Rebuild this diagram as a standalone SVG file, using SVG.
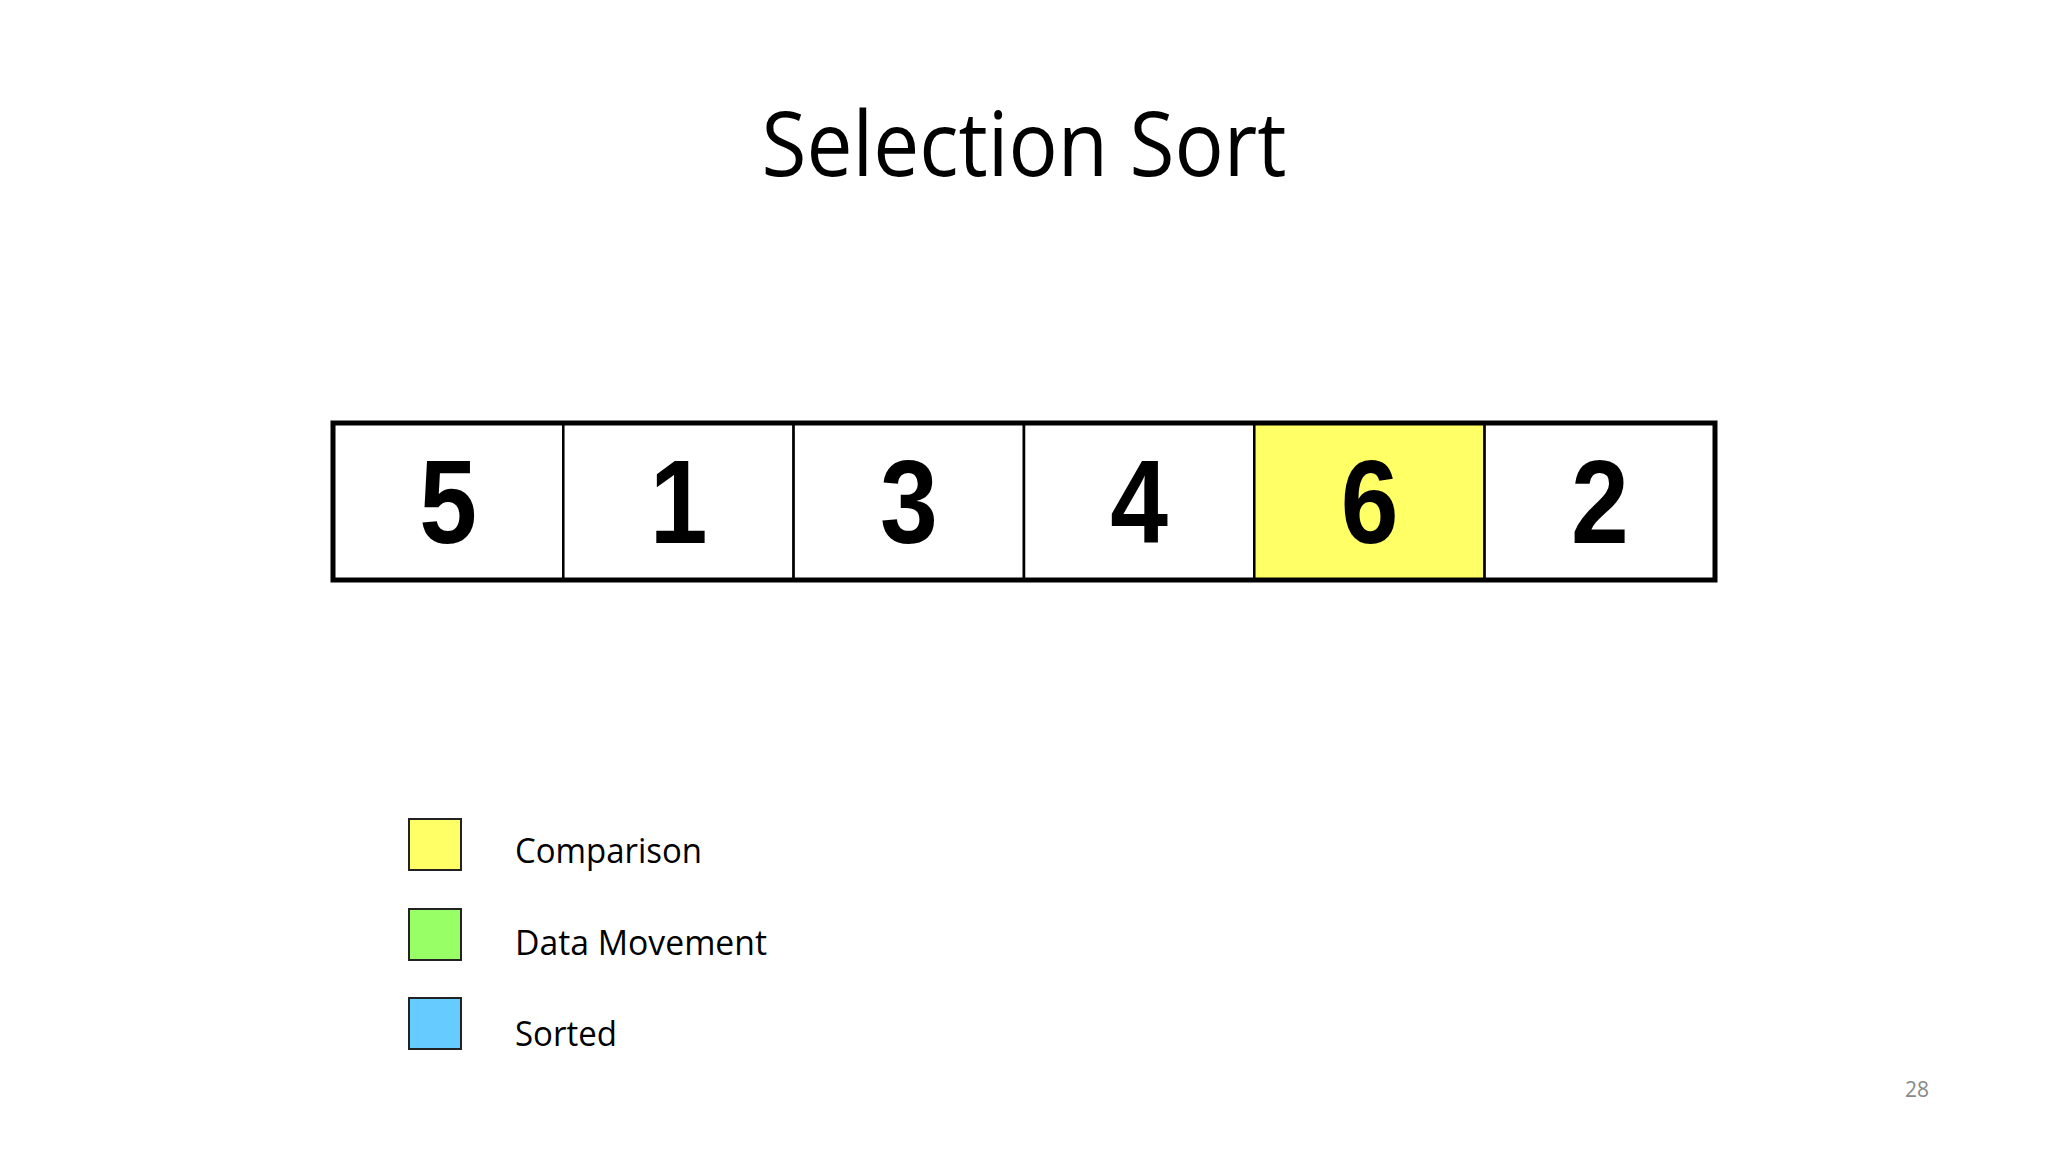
<svg xmlns="http://www.w3.org/2000/svg" width="2048" height="1152" viewBox="0 0 2048 1152">
<style>
.cell{stroke:#000;stroke-width:2.5}
.num{font-family:"Liberation Sans",Arial,sans-serif;font-weight:bold;font-size:118px;text-anchor:middle;fill:#000}
.sw{stroke:#222;stroke-width:2}
.lg{font-family:"Open Sans","Noto Sans",sans-serif;font-size:35px;fill:#000}
</style>
<rect width="2048" height="1152" fill="#fff"/>
<text id="title" x="1024" y="176" font-family="Open Sans, Noto Sans, sans-serif" font-size="90" text-anchor="middle" textLength="525" lengthAdjust="spacingAndGlyphs" fill="#000">Selection Sort</text>
<g id="array">
<g id="cell0"><rect class="cell" x="333" y="423" width="230.3" height="157" fill="#fff"/><text class="num" transform="translate(448,543) scale(0.88,1)">5</text></g>
<g id="cell1"><rect class="cell" x="563.3" y="423" width="230.3" height="157" fill="#fff"/><text class="num" transform="translate(678.5,543) scale(0.88,1)">1</text></g>
<g id="cell2"><rect class="cell" x="793.6" y="423" width="230.3" height="157" fill="#fff"/><text class="num" transform="translate(908.8,543) scale(0.88,1)">3</text></g>
<g id="cell3"><rect class="cell" x="1024" y="423" width="230.3" height="157" fill="#fff"/><text class="num" transform="translate(1139.2,543) scale(0.88,1)">4</text></g>
<g id="cell4"><rect class="cell" x="1254.3" y="423" width="230.3" height="157" fill="#ffff66"/><text class="num" transform="translate(1369.5,543) scale(0.88,1)">6</text></g>
<g id="cell5"><rect class="cell" x="1484.6" y="423" width="230.3" height="157" fill="#fff"/><text class="num" transform="translate(1599.8,543) scale(0.88,1)">2</text></g>
<rect x="333" y="423" width="1382" height="157" fill="none" stroke="#000" stroke-width="5"/>
</g>
<g id="connectors"/>
<g id="legend-comparison"><rect class="sw" x="409" y="819" width="52" height="51" fill="#ffff66"/><text class="lg" x="515" y="863" textLength="187" lengthAdjust="spacingAndGlyphs">Comparison</text></g>
<g id="legend-movement"><rect class="sw" x="409" y="909" width="52" height="51" fill="#99ff66"/><text class="lg" x="515" y="955" textLength="252" lengthAdjust="spacingAndGlyphs">Data Movement</text></g>
<g id="legend-sorted"><rect class="sw" x="409" y="998" width="52" height="51" fill="#66ccff"/><text class="lg" x="515" y="1046" textLength="102" lengthAdjust="spacingAndGlyphs">Sorted</text></g>
<text id="page" x="1917" y="1097" font-family="Open Sans, Noto Sans, sans-serif" font-size="21" fill="#888" text-anchor="middle">28</text>
</svg>
